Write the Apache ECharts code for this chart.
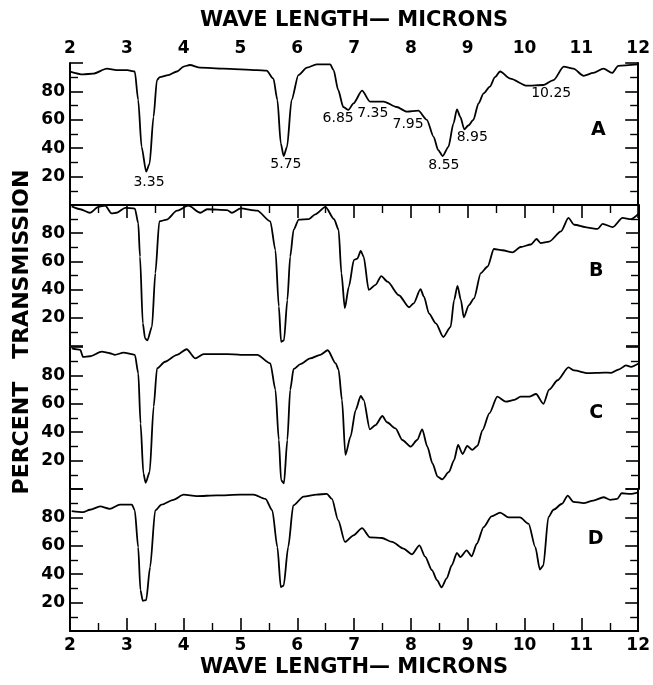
<!DOCTYPE html>
<html>
<head>
<meta charset="utf-8">
<script src="https://cdn.jsdelivr.net/npm/echarts@6/dist/echarts.min.js"></script>
<style>
  html, body { margin: 0; background: #fff; }
  #chart { width: 653px; height: 685px; }
</style>
</head>
<body>
<div id="chart"></div>
<script>
// spectrum A
const waveA = [2.0, 2.23, 2.41, 2.65, 2.82, 3.01, 3.14, 3.2, 3.26, 3.34, 3.4, 3.47, 3.53, 3.58, 3.73, 3.88, 4.0, 4.11, 4.29, 4.7,
  5.29, 5.46, 5.58, 5.65, 5.71, 5.76, 5.82, 5.9, 6.02, 6.17, 6.34, 6.58, 6.64, 6.72, 6.81, 6.9, 6.99, 7.14, 7.28, 7.52,
  7.75, 7.93, 8.13, 8.28, 8.4, 8.48, 8.56, 8.66, 8.75, 8.81, 8.87, 8.94, 9.01, 9.1, 9.19, 9.28, 9.39, 9.48, 9.57, 9.75,
  10.04, 10.33, 10.51, 10.69, 10.86, 11.04, 11.21, 11.39, 11.54, 11.65, 12.0]
const transA = [94, 92, 92.5, 96, 95, 95, 94, 74, 41, 23.5, 29, 62, 88, 90, 91.5, 94, 97.5, 98.6, 96.7, 96,
  95, 94.6, 89, 74, 43.4, 34.5, 41, 74, 91.5, 96.7, 99, 99, 95, 81, 69, 67, 71.6, 80.5, 72.8, 72.8,
  69, 65.7, 66.4, 60, 48, 38.7, 34.5, 41, 57.5, 67.4, 62, 53.3, 56, 60, 71.6, 78.6, 83.3, 90, 94, 89,
  84, 84.5, 88, 97.4, 96, 91, 93, 96, 93, 98, 99]

// spectrum B
const waveB = [2.03, 2.18, 2.35, 2.5, 2.62, 2.73, 2.82, 2.97, 3.14, 3.2, 3.23, 3.28, 3.32, 3.36, 3.44, 3.5, 3.57, 3.7, 3.88, 4.08,
  4.29, 4.41, 4.76, 4.85, 5.0, 5.29, 5.52, 5.61, 5.67, 5.71, 5.76, 5.82, 5.87, 5.93, 6.02, 6.2, 6.31, 6.49, 6.64, 6.72,
  6.77, 6.83, 6.9, 6.99, 7.05, 7.11, 7.16, 7.25, 7.37, 7.47, 7.58, 7.78, 7.96, 8.04, 8.16, 8.22, 8.31, 8.43, 8.56, 8.69,
  8.75, 8.81, 8.87, 8.92, 9.01, 9.1, 9.22, 9.34, 9.45, 9.6, 9.78, 9.92, 10.1, 10.2, 10.27, 10.42, 10.63, 10.76, 10.86, 11.1,
  11.27, 11.36, 11.54, 11.71, 11.86, 12.0]
const transB = [99, 97, 94.5, 98.7, 99.6, 94, 94.5, 98, 97.5, 87, 63.4, 16, 5.3, 4, 13.6, 51.7, 88.4, 89.6, 96, 99.5,
  94.5, 97, 96.4, 94.5, 97.6, 96, 88.4, 68, 28, 3, 4, 32.6, 63.4, 82.5, 89.6, 90, 93.4, 98.7, 90, 82.5,
  51.7, 26.8, 42, 61, 62, 67.4, 63.4, 39.8, 43.4, 49.6, 45.6, 36, 27.5, 30.3, 40.3, 35, 23, 16, 6.4, 13.6,
  32.6, 42.6, 32.6, 20.3, 29, 33.8, 51.7, 56.4, 68.8, 67.9, 66.4, 70.2, 72, 75.9, 73, 74, 81.3, 90.8, 86, 84,
  83, 86.6, 84.3, 90.8, 90, 94]

// spectrum C
const waveC = [2.03, 2.18, 2.23, 2.35, 2.56, 2.7, 2.79, 2.94, 3.14, 3.2, 3.24, 3.29, 3.33, 3.4, 3.47, 3.53, 3.67, 3.88, 4.05, 4.2,
  4.35, 4.76, 5.0, 5.29, 5.52, 5.61, 5.67, 5.71, 5.76, 5.82, 5.87, 5.93, 6.05, 6.22, 6.4, 6.53, 6.67, 6.72, 6.78, 6.84,
  6.93, 7.02, 7.11, 7.16, 7.27, 7.37, 7.49, 7.57, 7.72, 7.84, 7.99, 8.1, 8.19, 8.28, 8.37, 8.46, 8.54, 8.66, 8.75, 8.82,
  8.9, 8.98, 9.07, 9.16, 9.25, 9.37, 9.51, 9.66, 9.81, 9.92, 10.07, 10.19, 10.32, 10.42, 10.57, 10.76, 10.86, 11.1, 11.39, 11.51,
  11.65, 11.77, 11.86, 12.0]
const transC = [99, 98, 93, 93.5, 96.7, 95.6, 94.5, 96, 94.5, 81.5, 46, 11, 4.4, 12, 58, 85, 89.6, 94.5, 98.4, 92,
  95, 95, 94.5, 94.5, 88.5, 70, 34.5, 6.3, 4, 34.5, 70, 84.5, 88, 92, 94.5, 97.7, 88.5, 84, 62.7, 24,
  36.8, 55.6, 65.5, 62.7, 42, 45, 51.4, 47, 42.7, 34.5, 29.8, 34.5, 42, 29.8, 18, 8.7, 6.8, 12, 20.4, 31,
  24.6, 30.3, 27.6, 30.3, 41.5, 53.3, 65, 61.5, 62.7, 65, 65, 66.9, 60, 70, 76.6, 85.6, 83.5, 81.6, 82, 81.8,
  84.3, 87, 86, 88.5]

// spectrum D
const waveD = [2.03, 2.23, 2.35, 2.53, 2.7, 2.88, 3.09, 3.14, 3.2, 3.24, 3.28, 3.34, 3.41, 3.5, 3.61, 3.82, 4.0, 4.23, 4.58, 5.0,
  5.23, 5.44, 5.56, 5.65, 5.71, 5.76, 5.84, 5.93, 6.11, 6.34, 6.52, 6.61, 6.72, 6.84, 6.99, 7.14, 7.28, 7.49, 7.67, 7.87,
  8.02, 8.15, 8.25, 8.37, 8.46, 8.54, 8.63, 8.72, 8.81, 8.87, 8.98, 9.07, 9.16, 9.28, 9.42, 9.57, 9.72, 9.92, 10.07, 10.19,
  10.27, 10.33, 10.42, 10.51, 10.66, 10.76, 10.86, 11.04, 11.21, 11.39, 11.51, 11.63, 11.71, 11.86, 12.0]
const transD = [84.4, 83.7, 85.4, 87.7, 86, 89, 89, 85, 59, 28.8, 21.3, 21.7, 45, 85, 89, 92.4, 96, 95, 95.5, 96,
  96, 93, 85, 59, 31, 32, 59, 88.4, 94.7, 96, 96.6, 93, 78, 62.7, 67.4, 72.5, 66, 65.5, 62.7, 58,
  54, 60.3, 52.4, 42.8, 35.8, 30.7, 37, 46.3, 55, 52, 56.8, 52.6, 61.5, 73.2, 80.7, 83.3, 80, 80, 75.6, 59,
  43.3, 46, 80.2, 85.4, 89.6, 95.4, 91, 90, 91.8, 94.2, 92.4, 93, 97, 96.6, 97.7]

// band labels written on spectrum A: text, and where it sits (wavelength, percent)
const bandText = ['3.35', '5.75', '6.85', '7.35', '7.95', '8.55', '8.95', '10.25']
const bandWave = [3.39, 5.8, 6.72, 7.33, 7.95, 8.58, 9.08, 10.47]
const bandPct = [16.2, 28.9, 61.3, 64.8, 57, 28.2, 47.9, 78.9]

const panelNames = ['A', 'B', 'C', 'D']
const panelNameWave = [11.3, 11.25, 11.25, 11.25]
const panelNamePct = [52.8, 52.9, 53.7, 65]

const xTicks = [2, 3, 4, 5, 6, 7, 8, 9, 10, 11, 12]
const yLabels = [20, 40, 60, 80]

const spectra = [[waveA, transA], [waveB, transB], [waveC, transC], [waveD, transD]]

const FONT = 'DejaVu Sans'
const panelTop = [63, 205, 347, 489]
const panelHeight = [142, 141, 142, 142]

const lbl = { color: '#000', fontFamily: FONT, fontWeight: 'bold', fontSize: 17 }
const axisLine = { show: true, lineStyle: { color: '#000', width: 2 } }

const grids = panelTop.map((t, i) => ({ left: 70, width: 569, top: t, height: panelHeight[i] }))

const xAxes = panelTop.map((t, i) => {
    const first = i === 0
    const last = i === panelTop.length - 1
    return {
        type: 'value', gridIndex: i, min: 2, max: 12, interval: 1,
        show: first || last,
        position: first ? 'top' : 'bottom',
        axisLine: axisLine,
        axisTick: { inside: true, length: 13, lineStyle: { color: '#000', width: 1.6 } },
        minorTick: { show: true, splitNumber: 2, length: 8, lineStyle: { color: '#000', width: 1.4 } },
        splitLine: { show: false },
        axisLabel: Object.assign({ margin: 6, showMinLabel: true, showMaxLabel: true,
            formatter: v => xTicks.includes(v) ? String(v) : '' }, lbl),
        name: 'WAVE LENGTH\u2014 MICRONS',
        nameLocation: 'middle',
        nameGap: first ? 32 : 26,
        nameTextStyle: { color: '#000', fontFamily: FONT, fontWeight: 'bold', fontSize: 21 },
    }
})

const yAxes = []
panelTop.forEach((t, i) => {
    ['left', 'right'].forEach(side => {
        yAxes.push({
            type: 'value', gridIndex: i, min: 0, max: 100, interval: 20, position: side,
            axisLine: axisLine,
            axisTick: { inside: true, length: 13, lineStyle: { color: '#000', width: 1.6 } },
            minorTick: { show: true, splitNumber: 2, length: 8, lineStyle: { color: '#000', width: 1.4 } },
            splitLine: { show: false },
            axisLabel: Object.assign({ show: side === 'left', margin: 5,
                formatter: v => yLabels.includes(v) ? String(v) : '' }, lbl),
        })
    })
})

// text-only scatter: no visible symbol, label carries the text
const textSeries = (i, data, font) => ({
    type: 'scatter', xAxisIndex: i, yAxisIndex: i * 2,
    data: data,
    symbolSize: 0.1, itemStyle: { color: '#000', opacity: 1 },
    label: Object.assign({ show: true, position: 'inside', formatter: p => p.value[2],
        color: '#000', opacity: 1, textBorderWidth: 0, fontFamily: FONT }, font),
    emphasis: { disabled: true },
    silent: true,
})

const series = []
spectra.forEach(([wave, trans], i) => {
    series.push({
        type: 'line', xAxisIndex: i, yAxisIndex: i * 2,
        data: wave.map((w, k) => [w, trans[k]]),
        showSymbol: false, smooth: 0.25, smoothMonotone: 'x',
        lineStyle: { color: '#000', width: 1.8 },
        silent: true,
    })
    series.push(textSeries(i, [[panelNameWave[i], panelNamePct[i], panelNames[i]]],
        { fontWeight: 'bold', fontSize: 19 }))
})
series.push(textSeries(0, bandText.map((s, k) => [bandWave[k], bandPct[k], s]), { fontSize: 14 }))

const chart = echarts.init(document.getElementById('chart'))
chart.setOption({
    animation: false,
    backgroundColor: '#fff',
    grid: grids,
    xAxis: xAxes,
    yAxis: yAxes,
    series: series,
    graphic: [{
        type: 'text', x: 22, y: 332, rotation: Math.PI / 2,
        style: { text: 'PERCENT   TRANSMISSION', fill: '#000', align: 'center', verticalAlign: 'middle',
            font: 'bold 22px "DejaVu Sans"' },
    }],
})
</script>
</body>
</html>
